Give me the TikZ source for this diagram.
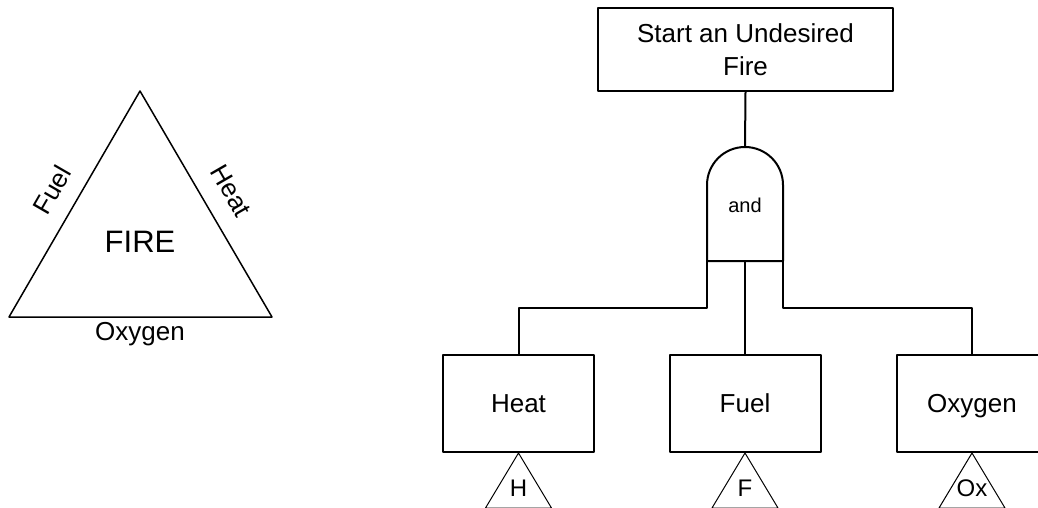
\documentclass[tikz,border=0pt]{standalone}
\usepackage{fontspec}
\setmainfont{Liberation Sans}
\usetikzlibrary{positioning,calc}

\tikzset{
  evt/.style={draw,line width=1pt,minimum width=75.5pt,minimum height=48.5pt,inner sep=0pt,font=\fontsize{13}{16.5}\selectfont},
  basic/.style={evt,text height=11pt,text depth=1.7pt},
  tag/.style={font=\fontsize{12}{14}\selectfont,inner sep=0pt,text height=9.8pt,text depth=1.2pt},
  lbl/.style={font=\fontsize{13}{16}\selectfont,inner sep=0pt}
}

\begin{document}
\begin{tikzpicture}[line cap=round,line join=round,x=0.5pt,y=-0.5pt]
\useasboundingbox (0,0) rectangle (1038,508);
% fire triangle
\coordinate (apex) at (140,91);
\coordinate (bl) at (9,317);
\coordinate (br) at (272,317);
\draw[line width=0.75pt] (apex) -- (br) -- (bl) -- cycle;
\node[font=\fontsize{15.5}{18}\selectfont] (fire) at (140,242) {FIRE};
\node[lbl,rotate=60] (fuelside) at (52,190) {Fuel};
\node[lbl,rotate=-60] (heatside) at (231,191) {Heat};
\node[lbl] (oxyside) at (140,334) {Oxygen};
% fault tree
\node[evt,minimum width=147.5pt,minimum height=41.5pt,align=center] (top) at (745.5,49.5) {Start an Undesired\\Fire};
\coordinate (gtop) at (745,147);
\coordinate (gl) at (707,261);
\coordinate (gr) at (783,261);
\coordinate (gc) at (745,261);
\coordinate (bus) at (0,308);
\draw[line width=1pt] (gl) -- (707,185) arc[start angle=180,end angle=0,radius=19pt] -- (gr) -- cycle;
\node[font=\fontsize{10}{12}\selectfont] (and) at (745,205) {and};
\node[basic] (heat) at (518.5,403.5) {Heat};
\node[basic] (fuel) at (745,403.5) {Fuel};
\node[basic] (oxy) at (972,403.5) {Oxygen};
\draw[line width=1pt] (top.south) -- (gtop);
\draw[line width=1pt] (gl) -- (gl |- bus) -| (heat.north);
\draw[line width=1pt] (gc) -- (fuel.north);
\draw[line width=1pt] (gr) -- (gr |- bus) -| (oxy.north);
\foreach \b/\t in {heat/H,fuel/F,oxy/Ox}{
  \draw[line width=0.5pt] (\b.south) -- ++(-33,55) -- ++(66,0) -- cycle;
  \node[tag] (\b-tag) at ($(\b.south)+(0,35)$) {\t};
}
\end{tikzpicture}
\end{document}
